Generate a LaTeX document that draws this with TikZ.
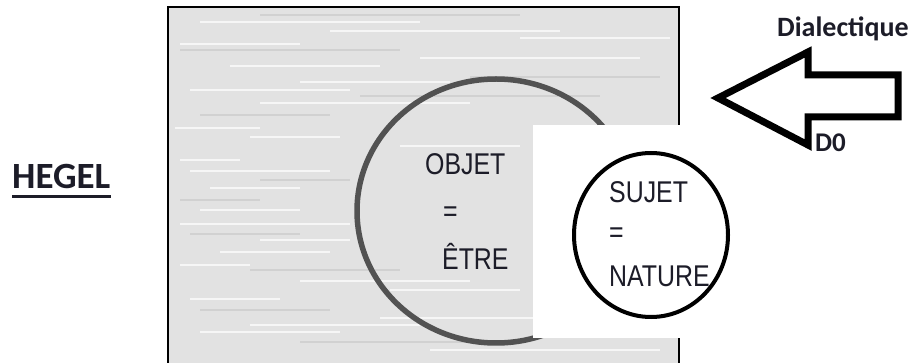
\documentclass[tikz,border=0pt]{standalone}
\usepackage{amsmath,amssymb}
\usepackage{xcolor}
\usepackage{fontspec}
\setmainfont{Liberation Sans}
\newfontfamily\calib{Carlito}
\usepackage{tikz}
\usetikzlibrary{arrows.meta,positioning,calc}

\definecolor{paper}{RGB}{226,226,226}
\definecolor{ring}{RGB}{82,82,82}
\definecolor{ink}{RGB}{28,28,40}

\tikzset{
  label txt/.style={inner sep=0pt,anchor=base west,text=ink,xscale=0.83,
    font=\fontsize{30}{32}\selectfont},
  title txt/.style={inner sep=0pt,anchor=base west,text=ink,
    font=\calib\bfseries\fontsize{28}{30}\selectfont}
}

\begin{document}
\begin{tikzpicture}[x=1pt,y=-1pt]
  \useasboundingbox (0,0) rectangle (916,363);
  % grey sheet
  \fill[paper] (168,7) rectangle (679,363);
  \foreach \y/\a/\b in {22/200/420,31/330/560,44/180/300,58/420/640,66/230/380,
      90/190/350,103/260/470,128/175/260,146/400/520,171/190/330,188/210/300,
      224/180/350,252/220/330,281/300/470,299/190/280,318/380/560,332/200/340,
      350/430/660,38/520/670,82/300/450,137/250/340,160/180/240,210/200/300,
      240/260/350,265/180/250,290/390/520,325/250/420}
    \draw[white,line width=2pt,opacity=0.7] (\a,\y) -- (\b,\y);
  \foreach \y/\a/\b in {15/260/520,50/180/400,77/470/660,115/200/330,200/180/260,
      270/250/400,310/200/330,342/300/520,96/360/600,180/260/350,234/190/300}
    \draw[gray!45,line width=1.5pt,opacity=0.6] (\a,\y) -- (\b,\y);
  \draw[line width=1.5pt] (168,363) -- (168,7) -- (679,7) -- (679,363);
  % big ring
  \draw[ring,line width=5.5pt] (496,211) ellipse [x radius=139,y radius=132];
  \fill[white] (533,125) rectangle (745,338);
  % small ring
  \draw[line width=4pt] (651,235) ellipse [x radius=77,y radius=82];

  \node[label txt] (objet) at (425,175) {OBJET};
  \node[label txt] (eqa) at (443,222) {=};
  \node[label txt] (etre) at (442,270) {ÊTRE};
  \node[label txt] (sujet) at (609,203) {SUJET};
  \node[label txt] (eqb) at (609,243) {=};
  \node[label txt] (nature) at (609,287) {NATURE};

  \node[title txt,font=\calib\bfseries\fontsize{37}{40}\selectfont] (hegel) at (12,189) {HEGEL};
  \draw[ink,line width=3pt] ([yshift=-8pt]hegel.base west) -- ([yshift=-8pt]hegel.base east);
  \node[title txt] (dial) at (777,37) {Dialectique};
  \node[title txt,font=\calib\bfseries\fontsize{27}{30}\selectfont] (dzero) at (815,152) {D0};

  % block arrow
  \draw[line width=7pt,line join=miter] (718,98) -- (808,52) -- (808,75) -- (898,75)
    -- (898,117) -- (808,117) -- (808,145) -- cycle;
\end{tikzpicture}
\end{document}
